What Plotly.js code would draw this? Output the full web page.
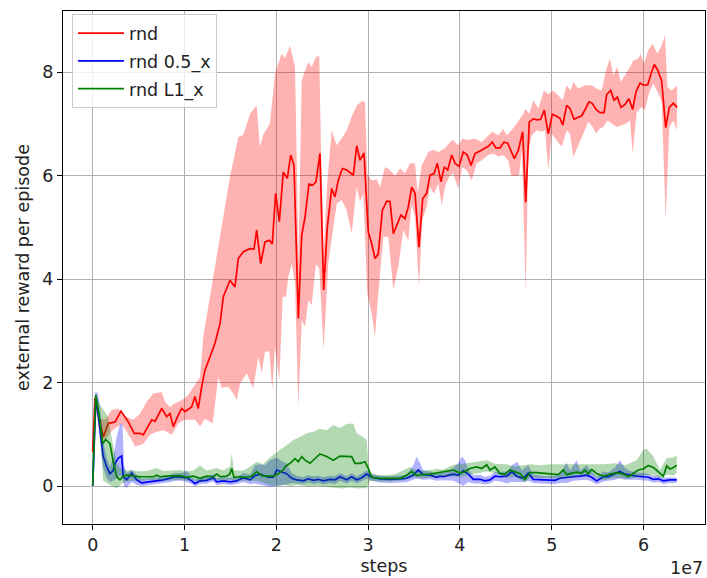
<!DOCTYPE html>
<html>
<head>
<meta charset="utf-8">
<script src="https://cdn.plot.ly/plotly-3.0.1.min.js"></script>
<style>html,body{margin:0;padding:0;background:#fff;}#chart{width:707px;height:578px;}</style>
</head>
<body>
<div id="chart"></div>
<script>
// steps in units of 1e7
const redX = [0,0.025,0.115,0.170,0.243,0.308,0.385,0.453,0.515,0.551,0.643,0.679,0.752,0.806,0.842,0.878,0.932,0.969,1.005,1.078,1.114,1.150,1.187,1.223,1.278,1.332,1.387,1.423,1.496,1.550,1.586,1.641,1.714,1.757,1.786,1.830,1.877,1.924,1.956,1.993,2.033,2.076,2.120,2.157,2.193,2.240,2.277,2.313,2.356,2.397,2.432,2.476,2.516,2.556,2.603,2.639,2.675,2.719,2.767,2.839,2.876,2.912,2.955,3.002,3.039,3.075,3.111,3.155,3.203,3.239,3.275,3.312,3.358,3.402,3.438,3.475,3.511,3.554,3.595,3.638,3.674,3.718,3.754,3.794,3.830,3.867,3.911,3.947,3.990,4.037,4.081,4.121,4.165,4.219,4.266,4.309,4.353,4.390,4.437,4.480,4.521,4.557,4.593,4.636,4.684,4.717,4.756,4.800,4.843,4.880,4.919,4.963,5.007,5.054,5.090,5.120,5.163,5.199,5.243,5.290,5.327,5.370,5.406,5.442,5.483,5.526,5.570,5.599,5.643,5.679,5.715,5.755,5.799,5.842,5.882,5.918,5.962,6.005,6.046,6.089,6.118,6.155,6.198,6.242,6.281,6.325,6.368];
const redY = [0.66,1.70,0.95,1.21,1.24,1.45,1.25,1.02,1.02,0.99,1.28,1.25,1.50,1.34,1.40,1.15,1.37,1.50,1.44,1.53,1.73,1.50,1.92,2.24,2.50,2.76,3.14,3.66,3.98,3.85,4.40,4.53,4.59,4.58,4.95,4.30,4.72,4.75,4.68,5.66,5.11,6.07,5.95,6.40,6.20,3.24,4.85,5.20,5.84,5.82,5.88,6.43,3.79,5.01,5.75,5.59,5.91,6.14,6.11,6.01,6.58,6.30,6.44,4.91,4.69,4.40,4.49,5.33,5.51,5.50,4.88,5.04,5.24,5.17,5.40,5.78,5.66,4.62,5.56,5.66,6.01,6.04,6.24,5.88,6.17,6.11,6.40,6.24,6.18,6.46,6.40,6.20,6.43,6.48,6.52,6.57,6.65,6.54,6.54,6.65,6.63,6.46,6.33,6.49,6.85,5.49,7.04,7.10,7.08,7.09,7.27,6.81,7.19,7.15,7.11,6.98,7.36,7.30,7.09,7.13,7.16,7.30,7.43,7.40,7.28,7.22,7.22,7.57,7.65,7.46,7.52,7.32,7.38,7.49,7.28,7.62,7.79,7.75,7.76,8.01,8.15,8.04,7.83,6.93,7.32,7.40,7.32];

const redUpX = [0,0.025,0.080,0.134,0.207,0.279,0.333,0.442,0.515,0.588,0.660,0.752,0.788,0.842,0.897,0.969,1.041,1.096,1.169,1.205,1.314,1.405,1.496,1.586,1.641,1.714,1.786,1.822,1.858,1.931,1.986,2.059,2.095,2.149,2.204,2.231,2.240,2.258,2.277,2.349,2.386,2.432,2.468,2.487,2.516,2.552,2.603,2.658,2.712,2.767,2.821,2.876,2.930,2.966,2.991,3.039,3.094,3.130,3.184,3.239,3.293,3.348,3.402,3.456,3.511,3.540,3.584,3.656,3.710,3.765,3.838,3.892,3.922,3.983,4.026,4.091,4.157,4.238,4.309,4.353,4.418,4.473,4.510,4.564,4.619,4.673,4.702,4.709,4.756,4.800,4.854,4.916,4.963,5.017,5.072,5.120,5.163,5.207,5.235,5.290,5.363,5.436,5.490,5.545,5.591,5.635,5.671,5.715,5.752,5.810,5.853,5.889,5.943,5.969,6.005,6.052,6.100,6.150,6.198,6.234,6.260,6.307,6.368];
const redUpY = [0.70,1.78,1.30,1.28,1.47,1.50,1.37,1.28,1.40,1.63,1.79,1.82,1.63,1.53,1.60,1.66,1.76,1.92,2.11,2.89,4.04,4.95,5.98,6.75,6.79,7.20,7.36,6.56,6.79,7.01,7.97,8.36,8.27,8.52,8.10,5.50,4.30,6.00,7.85,8.20,8.10,8.30,8.31,6.50,4.50,5.80,6.88,6.59,6.72,6.88,7.14,7.36,7.44,7.43,6.04,5.91,5.93,5.78,6.17,6.11,6.00,6.14,6.05,6.24,6.24,5.66,6.20,6.46,6.50,6.46,6.53,6.65,6.69,6.59,6.72,6.69,6.72,6.65,6.78,6.85,6.78,6.91,6.78,6.88,7.01,7.14,7.23,7.30,7.20,7.46,7.30,7.65,7.58,7.65,7.55,7.46,7.75,7.65,7.81,7.68,7.75,7.75,7.68,7.65,8.04,8.26,7.94,8.10,7.81,7.97,8.10,8.23,8.26,8.36,8.17,8.43,8.55,8.36,8.52,8.72,7.72,7.65,7.75];

const redLoX = [0,0.025,0.080,0.134,0.207,0.316,0.425,0.461,0.551,0.624,0.697,0.776,0.861,0.932,1.005,1.114,1.169,1.223,1.307,1.368,1.405,1.477,1.532,1.569,1.605,1.678,1.749,1.804,1.841,1.877,1.924,1.956,1.986,2.033,2.070,2.106,2.131,2.168,2.204,2.240,2.277,2.313,2.349,2.386,2.432,2.468,2.516,2.566,2.603,2.658,2.712,2.767,2.821,2.876,2.912,2.948,2.991,3.039,3.075,3.111,3.166,3.220,3.275,3.329,3.383,3.438,3.475,3.511,3.554,3.590,3.638,3.674,3.718,3.765,3.802,3.838,3.881,3.926,3.983,4.026,4.077,4.129,4.183,4.238,4.309,4.364,4.418,4.470,4.527,4.557,4.600,4.644,4.676,4.717,4.745,4.782,4.837,4.891,4.927,4.963,5.000,5.054,5.109,5.163,5.199,5.235,5.290,5.344,5.399,5.447,5.483,5.519,5.562,5.606,5.654,5.708,5.752,5.810,5.853,5.882,5.926,5.980,6.016,6.063,6.107,6.155,6.198,6.242,6.281,6.325,6.362];
const redLoY = [0.62,1.60,0.95,0.89,1.07,1.21,0.89,0.76,0.82,0.99,1.05,1.08,0.99,1.21,1.28,1.28,1.15,1.30,1.21,2.11,1.90,1.92,1.79,1.66,1.98,2.18,1.89,2.50,2.18,2.60,2.60,1.86,2.69,2.05,3.66,3.66,4.04,4.30,3.92,1.53,3.21,3.08,3.59,3.50,4.30,4.20,2.63,4.30,4.75,5.46,5.53,5.33,4.88,5.78,5.50,5.65,3.72,3.34,2.89,3.72,4.82,4.82,3.79,4.24,4.95,4.75,5.46,5.20,3.85,5.14,5.40,5.78,5.65,5.85,5.43,5.78,5.98,6.05,5.75,6.17,6.10,5.91,6.24,6.30,6.40,6.43,6.37,6.40,6.30,6.01,5.99,6.01,6.50,3.72,6.43,6.78,6.88,6.85,6.88,6.11,6.81,6.69,6.56,6.88,6.81,6.36,6.62,6.81,7.04,6.94,6.81,6.91,6.94,7.07,7.01,6.94,6.97,7.01,7.07,6.43,7.23,7.33,7.27,7.62,7.78,7.62,7.43,5.14,6.94,7.07,6.88];

const blueX = [0,0.036,0.080,0.115,0.153,0.188,0.224,0.243,0.279,0.316,0.333,0.370,0.425,0.479,0.534,0.624,0.697,0.770,0.842,0.897,0.969,1.024,1.078,1.114,1.169,1.242,1.314,1.351,1.423,1.496,1.569,1.641,1.714,1.768,1.822,1.877,1.913,1.967,2.004,2.059,2.113,2.168,2.222,2.294,2.349,2.403,2.458,2.512,2.585,2.639,2.694,2.767,2.821,2.876,2.930,2.985,3.039,3.130,3.239,3.348,3.420,3.492,3.547,3.601,3.674,3.747,3.783,3.819,3.928,3.983,4.037,4.091,4.146,4.219,4.273,4.328,4.382,4.437,4.510,4.564,4.619,4.691,4.745,4.800,4.873,4.946,5.036,5.090,5.163,5.235,5.310,5.381,5.436,5.490,5.562,5.618,5.690,5.744,5.799,5.853,5.926,5.998,6.052,6.107,6.161,6.216,6.288,6.362];
const blueY = [0,1.74,1.08,0.57,0.37,0.24,0.30,0.44,0.54,0.58,0.18,0.12,0.25,0.12,0.06,0.08,0.10,0.12,0.15,0.18,0.17,0.16,0.10,0.05,0.10,0.11,0.16,0.08,0.10,0.08,0.10,0.16,0.12,0.20,0.23,0.20,0.17,0.17,0.31,0.27,0.24,0.15,0.12,0.10,0.14,0.11,0.13,0.10,0.13,0.12,0.18,0.12,0.18,0.12,0.16,0.23,0.17,0.14,0.13,0.14,0.15,0.21,0.31,0.22,0.21,0.17,0.19,0.18,0.23,0.21,0.30,0.23,0.13,0.13,0.10,0.12,0.19,0.18,0.19,0.28,0.19,0.15,0.25,0.13,0.12,0.11,0.11,0.15,0.17,0.18,0.19,0.21,0.17,0.10,0.18,0.18,0.24,0.28,0.23,0.21,0.19,0.18,0.17,0.13,0.14,0.10,0.12,0.12];

const blueUpX = [0,0.025,0.058,0.080,0.115,0.153,0.188,0.224,0.261,0.297,0.325,0.340,0.370,0.425,0.479,0.534,0.624,0.697,0.770,0.842,0.897,0.969,1.024,1.078,1.114,1.169,1.242,1.314,1.351,1.423,1.496,1.569,1.641,1.714,1.768,1.822,1.877,1.931,2.004,2.059,2.113,2.168,2.222,2.294,2.349,2.403,2.458,2.512,2.585,2.639,2.694,2.767,2.821,2.876,2.930,2.985,3.039,3.130,3.239,3.348,3.420,3.492,3.529,3.565,3.601,3.674,3.747,3.819,3.928,3.983,4.020,4.056,4.091,4.146,4.219,4.273,4.328,4.382,4.437,4.510,4.564,4.627,4.673,4.745,4.800,4.873,4.946,5.036,5.090,5.163,5.200,5.272,5.310,5.381,5.436,5.490,5.562,5.618,5.690,5.744,5.799,5.853,5.926,5.998,6.052,6.107,6.161,6.216,6.288,6.362];
const blueUpY = [0,1.82,1.80,1.50,0.85,0.55,0.38,0.55,0.95,1.20,1.21,0.40,0.25,0.32,0.22,0.14,0.15,0.17,0.18,0.22,0.25,0.25,0.30,0.18,0.12,0.17,0.18,0.23,0.15,0.17,0.16,0.17,0.25,0.22,0.40,0.42,0.40,0.50,0.55,0.48,0.44,0.25,0.20,0.17,0.21,0.19,0.20,0.17,0.20,0.19,0.25,0.19,0.25,0.19,0.24,0.30,0.24,0.20,0.19,0.21,0.22,0.40,0.57,0.45,0.30,0.28,0.24,0.26,0.35,0.45,0.57,0.50,0.32,0.21,0.22,0.18,0.20,0.27,0.27,0.28,0.40,0.47,0.30,0.40,0.22,0.20,0.19,0.20,0.25,0.45,0.30,0.50,0.30,0.40,0.27,0.18,0.28,0.26,0.36,0.50,0.35,0.29,0.26,0.25,0.24,0.20,0.20,0.16,0.17,0.16];

const blueLoX = [0,0.025,0.058,0.080,0.115,0.153,0.188,0.224,0.261,0.297,0.325,0.340,0.370,0.425,0.479,0.534,0.624,0.697,0.770,0.842,0.897,0.969,1.024,1.078,1.114,1.169,1.242,1.314,1.351,1.423,1.496,1.569,1.641,1.714,1.768,1.822,1.877,1.931,2.004,2.059,2.113,2.168,2.222,2.294,2.349,2.403,2.458,2.512,2.585,2.639,2.694,2.767,2.821,2.876,2.930,2.985,3.039,3.130,3.239,3.348,3.420,3.492,3.529,3.601,3.674,3.747,3.819,3.928,3.983,4.037,4.091,4.146,4.219,4.273,4.328,4.382,4.437,4.510,4.564,4.619,4.691,4.745,4.800,4.873,4.946,5.036,5.090,5.163,5.235,5.310,5.381,5.436,5.490,5.562,5.618,5.690,5.744,5.799,5.853,5.926,5.998,6.052,6.107,6.161,6.216,6.288,6.362];
const blueLoY = [0,1.60,1.55,0.85,0.35,0.15,0.08,0.10,0.15,0.20,0.15,0.00,-0.04,0.08,0.02,0.00,0.02,0.04,0.06,0.08,0.10,0.10,0.08,0.04,-0.01,0.04,0.05,0.09,0.02,0.04,0.02,0.04,0.08,0.04,0.05,0.03,0.00,-0.02,0.00,0.02,0.03,0.06,0.05,0.04,0.07,0.04,0.06,0.03,0.06,0.04,0.10,0.05,0.10,0.05,0.09,0.14,0.10,0.07,0.06,0.07,0.08,0.12,0.14,0.12,0.13,0.10,0.11,0.10,0.06,0.00,0.08,0.05,0.05,0.03,0.05,0.10,0.09,0.05,0.08,0.08,0.08,0.10,0.06,0.05,0.04,0.04,0.06,0.06,0.10,0.11,0.12,0.09,0.03,0.09,0.10,0.12,0.15,0.12,0.12,0.12,0.11,0.10,0.07,0.08,0.04,0.06,0.06];

const greenX = [0,0.033,0.072,0.109,0.142,0.188,0.224,0.261,0.297,0.333,0.370,0.442,0.515,0.588,0.660,0.697,0.733,0.806,0.878,0.951,1.024,1.096,1.169,1.242,1.314,1.351,1.387,1.460,1.496,1.514,1.539,1.605,1.678,1.732,1.786,1.841,1.895,1.967,2.022,2.076,2.095,2.149,2.204,2.240,2.277,2.313,2.367,2.422,2.476,2.549,2.621,2.694,2.767,2.821,2.857,2.912,2.966,3.002,3.039,3.130,3.239,3.348,3.420,3.475,3.529,3.584,3.674,3.783,3.928,4.001,4.056,4.110,4.183,4.238,4.292,4.328,4.382,4.437,4.491,4.546,4.600,4.655,4.709,4.764,4.837,4.891,4.946,5.017,5.072,5.126,5.163,5.218,5.272,5.327,5.363,5.399,5.436,5.490,5.562,5.635,5.690,5.744,5.799,5.834,5.889,5.943,5.998,6.052,6.107,6.161,6.216,6.253,6.288,6.325,6.362];
const greenY = [0,1.76,1.34,0.82,0.90,0.82,0.47,0.18,0.12,0.19,0.21,0.19,0.18,0.18,0.18,0.21,0.18,0.19,0.19,0.20,0.17,0.19,0.15,0.19,0.18,0.23,0.18,0.19,0.24,0.34,0.17,0.18,0.17,0.19,0.28,0.20,0.19,0.19,0.24,0.31,0.37,0.44,0.53,0.47,0.57,0.50,0.44,0.53,0.62,0.57,0.50,0.58,0.58,0.57,0.44,0.44,0.47,0.34,0.17,0.15,0.15,0.15,0.21,0.28,0.20,0.22,0.23,0.26,0.31,0.25,0.28,0.34,0.37,0.34,0.41,0.31,0.37,0.24,0.23,0.31,0.28,0.24,0.13,0.26,0.26,0.25,0.24,0.24,0.22,0.31,0.22,0.25,0.27,0.25,0.31,0.24,0.32,0.24,0.19,0.23,0.25,0.25,0.22,0.18,0.25,0.31,0.33,0.40,0.36,0.27,0.19,0.39,0.33,0.36,0.40];

const greenUpX = [0,0.033,0.080,0.123,0.166,0.210,0.261,0.297,0.370,0.442,0.515,0.588,0.697,0.770,0.878,0.951,1.024,1.096,1.169,1.242,1.351,1.423,1.496,1.514,1.539,1.641,1.714,1.786,1.858,1.895,1.967,2.004,2.040,2.113,2.185,2.258,2.331,2.403,2.476,2.549,2.621,2.694,2.767,2.839,2.876,2.948,2.985,3.002,3.021,3.075,3.184,3.293,3.384,3.456,3.529,3.638,3.747,3.819,3.928,4.001,4.110,4.183,4.292,4.382,4.510,4.600,4.764,4.873,4.981,5.090,5.272,5.417,5.562,5.690,5.799,5.926,5.998,6.035,6.107,6.180,6.253,6.325,6.362];
const greenUpY = [0,1.78,1.57,1.45,1.34,0.90,0.45,0.35,0.30,0.30,0.28,0.29,0.35,0.29,0.30,0.31,0.28,0.30,0.40,0.30,0.35,0.30,0.38,0.63,0.30,0.30,0.38,0.47,0.42,0.50,0.60,0.66,0.70,0.79,0.89,0.95,1.02,1.05,1.11,1.08,1.18,1.12,1.20,1.21,1.02,0.95,0.89,0.45,0.25,0.22,0.21,0.23,0.30,0.37,0.30,0.30,0.33,0.32,0.41,0.42,0.45,0.47,0.50,0.43,0.42,0.38,0.42,0.40,0.42,0.42,0.42,0.43,0.42,0.44,0.40,0.50,0.70,0.72,0.57,0.31,0.54,0.55,0.60];

const greenLoX = [0,0.033,0.080,0.115,0.188,0.261,0.316,0.370,0.442,0.515,0.588,0.697,0.770,0.878,0.951,1.024,1.096,1.169,1.242,1.351,1.423,1.496,1.539,1.641,1.714,1.786,1.858,1.931,2.004,2.076,2.149,2.222,2.294,2.367,2.440,2.512,2.585,2.658,2.730,2.803,2.876,2.948,2.985,3.021,3.130,3.239,3.348,3.420,3.492,3.584,3.674,3.783,3.892,4.001,4.110,4.183,4.292,4.382,4.510,4.600,4.709,4.764,4.873,4.981,5.090,5.163,5.272,5.363,5.436,5.490,5.562,5.690,5.799,5.889,5.998,6.052,6.107,6.180,6.253,6.325,6.362];
const greenLoY = [0,1.70,1.00,0.10,0.02,-0.05,0.05,0.09,0.10,0.10,0.10,0.12,0.10,0.11,0.12,0.10,0.11,0.08,0.11,0.12,0.10,0.12,0.10,0.10,0.10,0.10,0.06,0.02,0.00,0.02,0.00,0.02,0.00,-0.01,0.00,-0.02,-0.03,-0.04,-0.05,-0.03,-0.05,-0.04,-0.05,0.10,0.09,0.09,0.10,0.13,0.18,0.15,0.16,0.18,0.19,0.18,0.22,0.25,0.28,0.25,0.16,0.18,0.07,0.17,0.16,0.15,0.14,0.15,0.18,0.20,0.22,0.16,0.11,0.16,0.14,0.15,0.20,0.22,0.22,0.15,0.22,0.20,0.25];

const seriesNames = ["rnd", "rnd 0.5_x", "rnd L1_x"];
const xTickVals = [0,1,2,3,4,5,6];
const xTickText = ["0","1","2","3","4","5","6"];
const yTickVals = [0,2,4,6,8];
const yTickText = ["0","2","4","6","8"];

function band(ux, uy, lx, ly, color) {
  return {
    x: ux.concat(lx.slice().reverse()),
    y: uy.concat(ly.slice().reverse()),
    type: 'scatter', mode: 'lines', fill: 'toself',
    fillcolor: color, line: {width: 0, color: 'rgba(0,0,0,0)'},
    hoverinfo: 'skip', showlegend: false
  };
}
function line(x, y, color, name, grp) {
  return {x: x, y: y, type: 'scatter', mode: 'lines', name: name,
    legendgroup: grp, line: {color: color, width: 1.7}};
}

const data = [
  band(redUpX, redUpY, redLoX, redLoY, 'rgba(255,0,0,0.3)'),
  line(redX, redY, '#ff0000', seriesNames[0], 'a'),
  band(blueUpX, blueUpY, blueLoX, blueLoY, 'rgba(0,0,255,0.3)'),
  line(blueX, blueY, '#0000ff', seriesNames[1], 'b'),
  band(greenUpX, greenUpY, greenLoX, greenLoY, 'rgba(0,128,0,0.3)'),
  line(greenX, greenY, '#008000', seriesNames[2], 'c')
];

const FS = 17.5;
const font = {family: 'DejaVu Sans', size: FS, color: '#222'};
const layout = {
  width: 707, height: 578,
  margin: {l: 63, r: 2, t: 11, b: 54},
  paper_bgcolor: '#fff', plot_bgcolor: '#fff',
  font: font,
  showlegend: true,
  legend: {x: 0.014, y: 0.9935, xanchor: 'left', yanchor: 'top',
    bgcolor: 'rgba(255,255,255,0.8)', bordercolor: '#cccccc', borderwidth: 1,
    font: {family: 'DejaVu Sans', size: FS, color: '#222'}, tracegroupgap: 2, itemwidth: 46},
  xaxis: {range: [-0.3235, 6.67], tickvals: xTickVals, ticktext: xTickText,
    showgrid: true, gridcolor: '#b0b0b0', gridwidth: 1, zeroline: false,
    showline: true, linecolor: '#000', linewidth: 1, mirror: true,
    ticks: 'outside', ticklen: 5, tickcolor: '#000', tickwidth: 1,
    title: {text: 'steps', font: font, standoff: 5}, tickfont: font},
  yaxis: {range: [-0.734, 9.185], tickvals: yTickVals, ticktext: yTickText,
    showgrid: true, gridcolor: '#b0b0b0', gridwidth: 1, zeroline: false,
    showline: true, linecolor: '#000', linewidth: 1, mirror: true,
    ticks: 'outside', ticklen: 5, tickcolor: '#000', tickwidth: 1,
    title: {text: 'external reward per episode', font: font, standoff: 8}, tickfont: font},
  annotations: [{text: '1e7', xref: 'paper', yref: 'paper', x: 1, y: -0.086,
    xanchor: 'right', yanchor: 'middle', showarrow: false, font: font}]
};

Plotly.newPlot('chart', data, layout, {staticPlot: true, displayModeBar: false});
</script>
</body>
</html>
